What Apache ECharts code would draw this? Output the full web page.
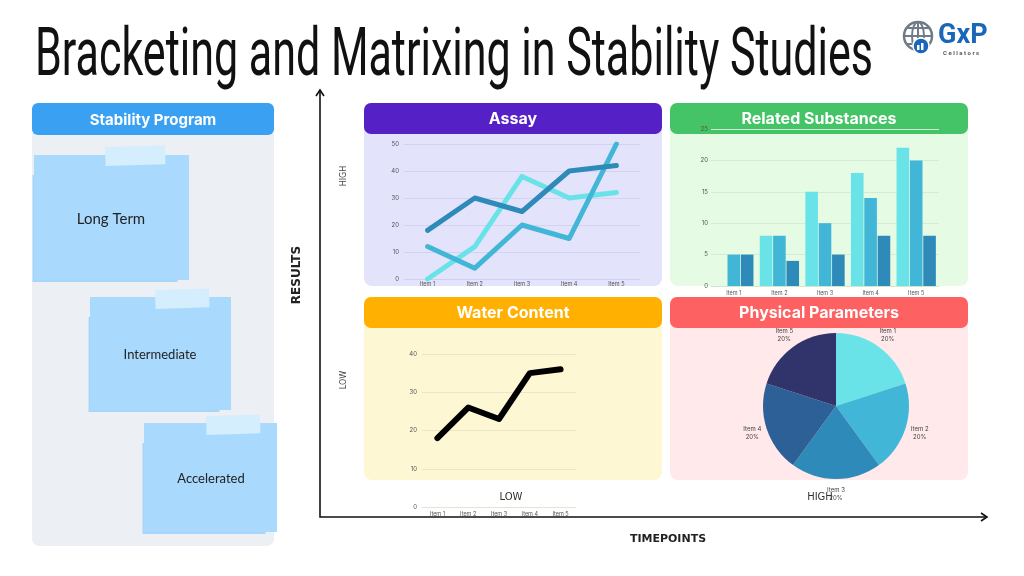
<!DOCTYPE html>
<html>
<head>
<meta charset="utf-8">
<script src="https://cdn.jsdelivr.net/npm/echarts@6/dist/echarts.min.js"></script>
<style>
html,body{margin:0;padding:0;background:#fff;}
#c{width:1024px;height:576px;}
</style>
</head>
<body>
<div id="c"></div>
<script>
// ---------- data ----------
const titleText = 'Bracketing and Matrixing in Stability Studies';
const items = ['Item 1', 'Item 2', 'Item 3', 'Item 4', 'Item 5'];
const assaySeries1 = [18, 30, 25, 40, 42];
const assaySeries2 = [12, 4, 20, 15, 50];
const assaySeries3 = [0, 12, 38, 30, 32];
const relatedSeries1 = [0, 8, 15, 18, 22];
const relatedSeries2 = [5, 8, 10, 14, 20];
const relatedSeries3 = [5, 4, 5, 8, 8];
const waterValues = [18, 26, 23, 35, 36];
const physicalValues = [20, 20, 20, 20, 20];
const assayRange = [0, 50, 10];
const relatedRange = [0, 25, 5];
const waterRange = [0, 40, 10];
const programSteps = ['Long Term', 'Intermediate', 'Accelerated'];
const panelTitles = ['Assay', 'Related Substances', 'Water Content', 'Physical Parameters'];

// ---------- styling ----------
const C1 = '#6ae3e8', C2 = '#41b6d6', C3 = '#2e8ab8', C4 = '#2d6097', C5 = '#31346b';
const tickFont = { fontSize: 6, color: '#555', fontFamily: 'Inter' };

function rect(x, y, w, h, r, fill, z, extra) {
  return Object.assign({ type: 'rect', z: z, shape: { x: x, y: y, width: w, height: h, r: r }, style: { fill: fill } }, extra || {});
}
function text(x, y, t, size, weight, fill, family, opts) {
  opts = opts || {};
  return {
    type: 'text', x: x, y: y, z: opts.z || 20, rotation: opts.rotation || 0,
    scaleX: opts.scaleX || 1,
    style: {
      text: t, fill: fill, fontSize: size, fontWeight: weight, fontFamily: family,
      textAlign: opts.align || 'center', textVerticalAlign: 'middle',
      align: opts.align || 'center', verticalAlign: 'middle'
    }
  };
}

// measure title to fit width
const mctx = document.createElement('canvas').getContext('2d');
mctx.font = '400 67px Roboto';
const titleW = mctx.measureText(titleText).width;
const titleScale = 838 / titleW;

const g = [];
// title
g.push(text(35, 58, titleText, 67, 400, '#111', 'Roboto', { align: 'left', scaleX: titleScale }));

// logo
g.push({ type: 'circle', z: 5, shape: { cx: 918, cy: 36, r: 14 }, style: { fill: 'none', stroke: '#6f7c88', lineWidth: 2.5 } });
g.push({ type: 'ellipse', z: 5, shape: { cx: 918, cy: 36, rx: 6, ry: 14 }, style: { fill: 'none', stroke: '#6f7c88', lineWidth: 2 } });
g.push({ type: 'line', z: 5, shape: { x1: 918, y1: 22, x2: 918, y2: 50 }, style: { stroke: '#6f7c88', lineWidth: 2 } });
g.push({ type: 'line', z: 5, shape: { x1: 904, y1: 36, x2: 932, y2: 36 }, style: { stroke: '#6f7c88', lineWidth: 2 } });
g.push({ type: 'line', z: 5, shape: { x1: 907, y1: 28, x2: 929, y2: 28 }, style: { stroke: '#6f7c88', lineWidth: 2 } });
g.push({ type: 'line', z: 5, shape: { x1: 907, y1: 44, x2: 929, y2: 44 }, style: { stroke: '#6f7c88', lineWidth: 2 } });
g.push({ type: 'circle', z: 6, shape: { cx: 921, cy: 46, r: 8 }, style: { fill: '#1a66b8', stroke: '#fff', lineWidth: 1.5 } });
g.push(rect(917, 45, 2.5, 5, 0, '#fff', 7));
g.push(rect(921, 43, 2.5, 7, 0, '#fff', 7));
g.push(text(938, 36, 'GxP', 27, 'bold', '#1a66b8', 'Roboto', { align: 'left' }));
g.push(text(943, 53, 'C e l l a t o r s', 6, 'bold', '#555', 'Roboto', { align: 'left' }));

// left panel
g.push(rect(32, 103, 242, 443, 7, '#eceff3', -5));
g.push(rect(32, 103, 242, 32, 6, '#3aa0f1', -4));
g.push(text(153, 120, 'Stability Program', 15, 'bold', '#fff', 'Inter'));

// sticky notes
const notes = [
  { x: 34, y: 155, w: 155, h: 125, tx: 105, ty: 147, tw: 60, ts: 15, lx: 111, ly: 219 },
  { x: 90, y: 297, w: 141, h: 113, tx: 155, ty: 290, tw: 54, ts: 13, lx: 160, ly: 355 },
  { x: 144, y: 423, w: 133, h: 109, tx: 206, ty: 416, tw: 54, ts: 13, lx: 211, ly: 479 }
];
notes.forEach(function (n, i) {
  g.push(rect(n.x - 1.5, n.y + 20, n.w - 10, n.h - 18, 0, '#a6d7fb', -3));
  g.push(rect(n.x, n.y, n.w, n.h, 0, '#a9d9fc', -2));
  g.push(rect(n.tx, n.ty, n.tw, 19, 0, '#d4eefd', -1, { rotation: 0.03, originX: n.tx, originY: n.ty }));
  g.push(text(n.lx, n.ly, programSteps[i], n.ts, 400, '#222', 'Lato'));
});

// quadrant panels
const panels = [
  { x: 364, y: 103, body: '#e3e3fb', head: '#5520c5' },
  { x: 670, y: 103, body: '#e5fbe4', head: '#44c466' },
  { x: 364, y: 297, body: '#fdf7d4', head: '#ffb000' },
  { x: 670, y: 297, body: '#ffe9ea', head: '#fd6161' }
];
panels.forEach(function (p, i) {
  g.push(rect(p.x, p.y, 298, 183, 8, p.body, -5));
  g.push(rect(p.x, p.y, 298, 31, 7, p.head, -4));
  g.push(text(p.x + 149, p.y + 16, panelTitles[i], 16, 'bold', '#fff', 'Inter'));
});

// big axes
g.push({ type: 'polyline', z: 10, shape: { points: [[320, 91], [320, 517], [986, 517]] }, style: { stroke: '#111', lineWidth: 1.6, fill: 'none' } });
g.push({ type: 'polyline', z: 10, shape: { points: [[316, 96], [320, 90], [324, 96]] }, style: { stroke: '#111', lineWidth: 1.6, fill: 'none' } });
g.push({ type: 'polyline', z: 10, shape: { points: [[981, 513], [987, 517], [981, 521]] }, style: { stroke: '#111', lineWidth: 1.6, fill: 'none' } });
g.push(text(297, 275, 'RESULTS', 12, 'bold', '#222', 'DejaVu Sans', { rotation: Math.PI / 2 }));
g.push(text(668, 539, 'TIMEPOINTS', 11, 'bold', '#222', 'DejaVu Sans'));
g.push(text(344, 176, 'HIGH', 8, 400, '#444', 'DejaVu Sans', { rotation: Math.PI / 2 }));
g.push(text(344, 380, 'LOW', 8, 400, '#444', 'DejaVu Sans', { rotation: Math.PI / 2 }));
g.push(text(511, 497, 'LOW', 10, 400, '#333', 'DejaVu Sans'));
g.push(text(820, 497, 'HIGH', 10, 400, '#333', 'DejaVu Sans'));

function xAx(grid, lineColor, margin) {
  return {
    gridIndex: grid, type: 'category', data: items,
    axisLine: { lineStyle: { color: lineColor } }, axisTick: { show: false },
    axisLabel: Object.assign({ margin: margin, fontSize: 5.5 }, { color: '#555', fontFamily: 'Inter' })
  };
}
function yAx(grid, range, lineColor, margin) {
  return {
    gridIndex: grid, type: 'value', min: range[0], max: range[1], interval: range[2],
    axisLine: { show: false }, axisTick: { show: false },
    axisLabel: Object.assign({ margin: margin }, tickFont),
    splitLine: { lineStyle: { color: lineColor, width: 1 } }
  };
}
function lineS(data, color, xi) {
  return {
    type: 'line', xAxisIndex: xi, yAxisIndex: xi, data: data, symbol: 'none', z: 5,
    lineStyle: { color: color, width: 5, cap: 'round', join: 'round' }
  };
}
function barS(data, color) {
  return {
    type: 'bar', xAxisIndex: 1, yAxisIndex: 1, data: data, barWidth: 12.6, barGap: '6%', z: 5,
    itemStyle: { color: color }
  };
}

const option = {
  backgroundColor: '#ffffff',
  animation: false,
  graphic: { elements: g },
  grid: [
    { left: 404, right: 384, top: 144, bottom: 297 },
    { left: 711, right: 85, top: 129, bottom: 290 },
    { left: 422, right: 448, top: 354, bottom: 69 }
  ],
  xAxis: [xAx(0, '#cfd0ef', 2), xAx(1, '#cfe6cf', 4), xAx(2, '#e6e3d0', 4)],
  yAxis: [yAx(0, assayRange, '#d2d3f1', 5), yAx(1, relatedRange, '#d3ecd3', 3), yAx(2, waterRange, '#ebe6c6', 5)],
  series: [
    lineS(assaySeries3, C1, 0),
    lineS(assaySeries2, C2, 0),
    lineS(assaySeries1, C3, 0),
    barS(relatedSeries1, C1),
    barS(relatedSeries2, C2),
    barS(relatedSeries3, C3),
    {
      type: 'line', xAxisIndex: 2, yAxisIndex: 2, data: waterValues, symbol: 'none', z: 5,
      lineStyle: { color: '#000', width: 6, cap: 'round', join: 'round' }
    },
    {
      type: 'pie', center: [836, 406], radius: 73, startAngle: 90, clockwise: true, z: 5,
      data: items.map(function (n, i) { return { name: n, value: physicalValues[i] }; }),
      color: [C1, C2, C3, C4, C5],
      label: { show: false }, labelLine: { show: false }, silent: true
    },
    {
      type: 'pie', center: [836, 406], radius: [73, 97], startAngle: 90, clockwise: true, z: 4,
      data: items.map(function (n, i) { return { name: n, value: physicalValues[i] }; }),
      itemStyle: { color: 'rgba(0,0,0,0)' },
      label: { show: true, position: 'inside', formatter: '{b}\n{d}%', fontSize: 6, lineHeight: 8, color: '#444', fontFamily: 'Inter' },
      labelLine: { show: false }, silent: true
    }
  ]
};
const chart = echarts.init(document.getElementById('c'));
chart.setOption(option);
</script>
</body>
</html>
